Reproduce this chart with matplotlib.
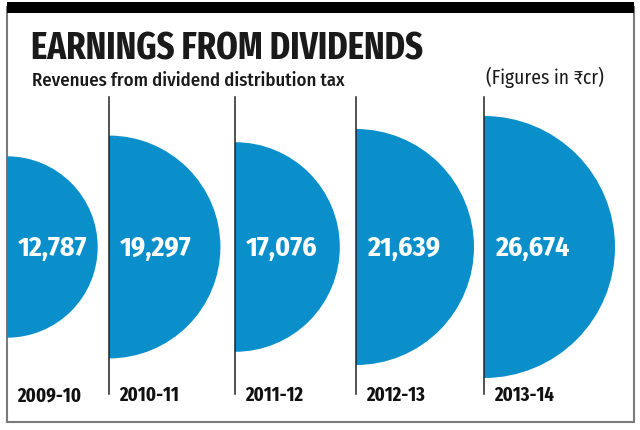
import matplotlib
matplotlib.use("Agg")
import matplotlib.pyplot as plt
from matplotlib.patches import Wedge, Rectangle
import numpy as np

years = ["2009-10", "2010-11", "2011-12", "2012-13", "2013-14"]
values = [12787, 19297, 17076, 21639, 26674]
value_labels = ["12,787", "19,297", "17,076", "21,639", "26,674"]

title = "EARNINGS FROM DIVIDENDS"
subtitle = "Revenues from dividend distribution tax"
unit_note = "(Figures in \u20b9cr)"

# layout (pixels)
line_x = [7, 109, 235, 356, 484]
center_y = 248
scale_k = 131 / np.sqrt(26674)
blue = "#0b8fca"
FONT_XC = ["Fira Sans Extra Condensed", "Roboto", "DejaVu Sans"]
FONT_C = ["Fira Sans Condensed", "Roboto", "DejaVu Sans"]

fig = plt.figure(figsize=(6.4, 4.31), dpi=100)
ax = fig.add_axes([0, 0, 1, 1])
ax.set_xlim(0, 640)
ax.set_ylim(431, 0)
ax.axis("off")

# frame
ax.add_patch(Rectangle((7, 8), 627, 415, fill=False, ec="#7a7a7a", lw=1.5))
ax.add_patch(Rectangle((7, 3), 627, 11, fc="black", ec="none"))

ax.text(31, 59, title, fontsize=27, fontweight="bold", family=FONT_XC,
        color="#1a1a1a", va="baseline", ha="left")
ax.text(32, 86, subtitle, fontsize=13.5, fontweight="medium", family=FONT_C,
        color="#1a1a1a", va="baseline", ha="left")
ax.text(604, 84, unit_note, fontsize=14, family=FONT_C,
        color="#1a1a1a", va="baseline", ha="right")

for x, v, lab, yr in zip(line_x, values, value_labels, years):
    r = scale_k * np.sqrt(v)
    ax.add_patch(Wedge((x, center_y), r, -90, 90, fc=blue, ec="none"))
    if x > 10:
        ax.plot([x, x], [98, 395], color="#222222", lw=1.1)
    ax.text(x + 11, center_y + 8, lab, fontsize=20, fontweight="bold", family=FONT_C,
            color="white", va="baseline", ha="left")
    ax.text(x + 10, 401, yr, fontsize=14.5, fontweight="bold", family=FONT_XC,
            color="#111111", va="baseline", ha="left")

fig.savefig("out.png", dpi=100)
